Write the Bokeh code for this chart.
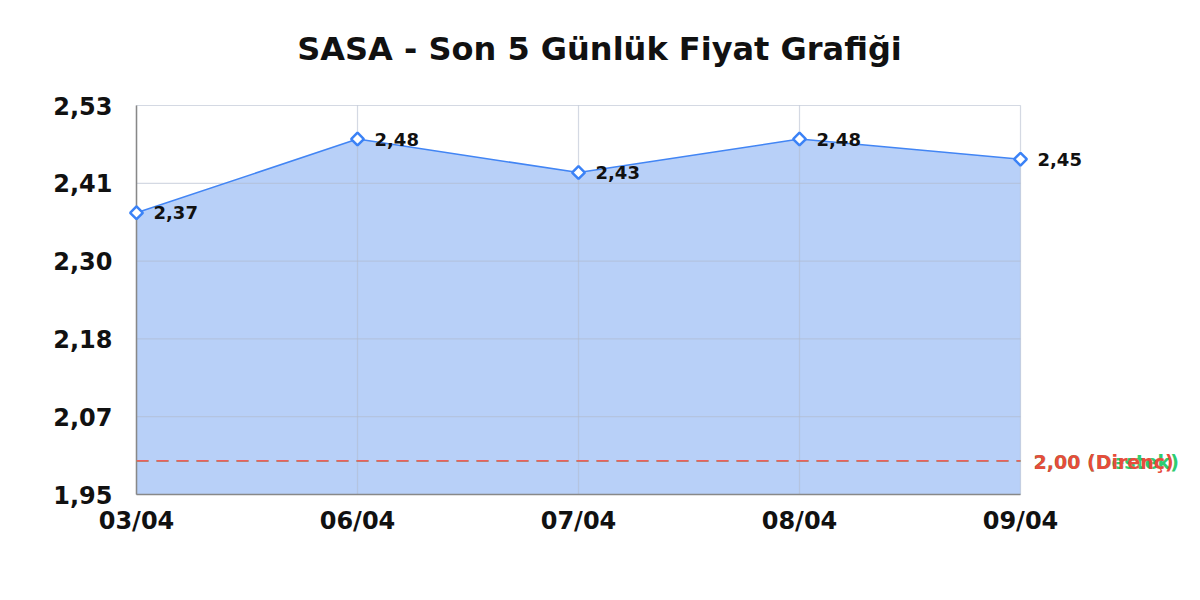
import math

from bokeh.plotting import figure
from bokeh.models import ColumnDataSource, FixedTicker, LabelSet, Label
from bokeh.core.properties import value
from bokeh.embed import file_html
from bokeh.resources import INLINE

# veriler
title = "SASA - Son 5 Günlük Fiyat Grafiği"
dates = ["03/04", "06/04", "07/04", "08/04", "09/04"]
prices = [2.37, 2.48, 2.43, 2.48, 2.45]
y_ticks = [1.95, 2.066, 2.182, 2.298, 2.414, 2.53]
y_tick_labels = ["1,95", "2,07", "2,18", "2,30", "2,41", "2,53"]
support = 2.00
resistance = 2.00

FONT = value("DejaVu Sans")


def tr(v):
    return f"{v:.2f}".replace(".", ",")


xs = list(range(len(dates)))
y0, y1 = y_ticks[0], y_ticks[-1]

# çizim alanı (frame) kenar boşlukları piksel cinsinden;
# etiketler kesilmesin diye frame grafiğin dışına doğru genişletildi
W, H = 1190, 584
LEFT, RIGHT, TOP, BOTTOM = 126, 2, 10, 88
px_x = 884 / (xs[-1] - xs[0])      # x birimi başına piksel
px_y = 389 / (y1 - y0)
pad_l = 10 / px_x
pad_r = (W - LEFT - RIGHT - 10 - 884) / px_x
pad_b = 2 / px_y
pad_t = (H - TOP - BOTTOM - 391) / px_y

src = ColumnDataSource(data=dict(
    x=xs, y=prices, base=[y0] * len(xs), lbl=[tr(v) for v in prices],
))

p = figure(width=W, height=H, output_backend="svg", toolbar_location=None,
           x_range=(xs[0] - pad_l, xs[-1] + pad_r), y_range=(y0 - pad_b, y1 + pad_t),
           min_border_left=LEFT, min_border_right=RIGHT,
           min_border_top=TOP, min_border_bottom=BOTTOM)
p.outline_line_color = None
p.grid.visible = False

# başlık
p.add_layout(Label(x=(xs[0] + xs[-1]) / 2, y=y1, x_offset=21, y_offset=57, text=title,
                   text_align="center", text_baseline="middle", text_color="#111111",
                   text_font="DejaVu Sans", text_font_style="bold", text_font_size="32px"))

# alan
p.varea(x="x", y1="base", y2="y", source=src, fill_color="#b8d0f8", fill_alpha=1)

# ızgara çizgileri
p.segment(x0=[xs[0]] * len(y_ticks), x1=[xs[-1]] * len(y_ticks), y0=y_ticks, y1=y_ticks,
          line_color="#b0bacc", line_alpha=0.55, line_width=1.2)
p.segment(x0=xs, x1=xs, y0=[y0] * len(xs), y1=[y1] * len(xs),
          line_color="#b0bacc", line_alpha=0.55, line_width=1.2)

# eksen çizgileri
p.segment(x0=[xs[0], xs[0]], x1=[xs[0], xs[-1]], y0=[y0, y0], y1=[y1, y0],
          line_color="#888888", line_width=1.5)

# destek / direnç
p.segment(x0=[xs[0]], x1=[xs[-1]], y0=[support], y1=[support], line_color="#2ecc71",
          line_dash="12 8", line_width=1.5)
p.segment(x0=[xs[0]], x1=[xs[-1]], y0=[resistance], y1=[resistance], line_color="#ec5f5f",
          line_dash="12 8", line_width=1.8)
p.add_layout(Label(x=xs[-1], y=support, x_offset=13, y_offset=-1, text=tr(support) + " (Destek)",
                   text_color="#2ecc71", text_font="DejaVu Sans", text_font_style="bold",
                   text_font_size="19px", text_baseline="middle"))
p.add_layout(Label(x=xs[-1], y=resistance, x_offset=13, y_offset=-1, text=tr(resistance) + " (Direnç)",
                   text_color="#e74c3c", text_font="DejaVu Sans", text_font_style="bold",
                   text_font_size="19px", text_baseline="middle"))

# çizgi + noktalar
p.line(x="x", y="y", source=src, line_color="#4285f4", line_width=1.5)
p.scatter(x="x", y="y", source=src, marker="square", angle=math.pi / 4, size=9,
          fill_color="white", line_color="#3b82f6", line_width=2.5)

p.add_layout(LabelSet(x="x", y="y", text="lbl", source=src, x_offset=17, y_offset=0,
                      text_font=FONT, text_font_style="bold", text_font_size="18px",
                      text_color="#111111", text_baseline="middle"))

# eksenler
p.xaxis.ticker = FixedTicker(ticks=xs)
p.xaxis.major_label_overrides = {i: d for i, d in enumerate(dates)}
p.yaxis.ticker = FixedTicker(ticks=y_ticks)
p.yaxis.major_label_overrides = {t: l for t, l in zip(y_ticks, y_tick_labels)}
for ax in (p.xaxis, p.yaxis):
    ax.major_label_text_font = "DejaVu Sans"
    ax.major_label_text_font_style = "bold"
    ax.major_label_text_font_size = "24px"
    ax.major_label_text_color = "#111111"
    ax.major_tick_line_color = None
    ax.minor_tick_line_color = None
    ax.axis_line_color = None
p.xaxis.major_label_standoff = 4
p.yaxis.major_label_standoff = 8

open("out.html", "w").write(file_html(p, INLINE))
